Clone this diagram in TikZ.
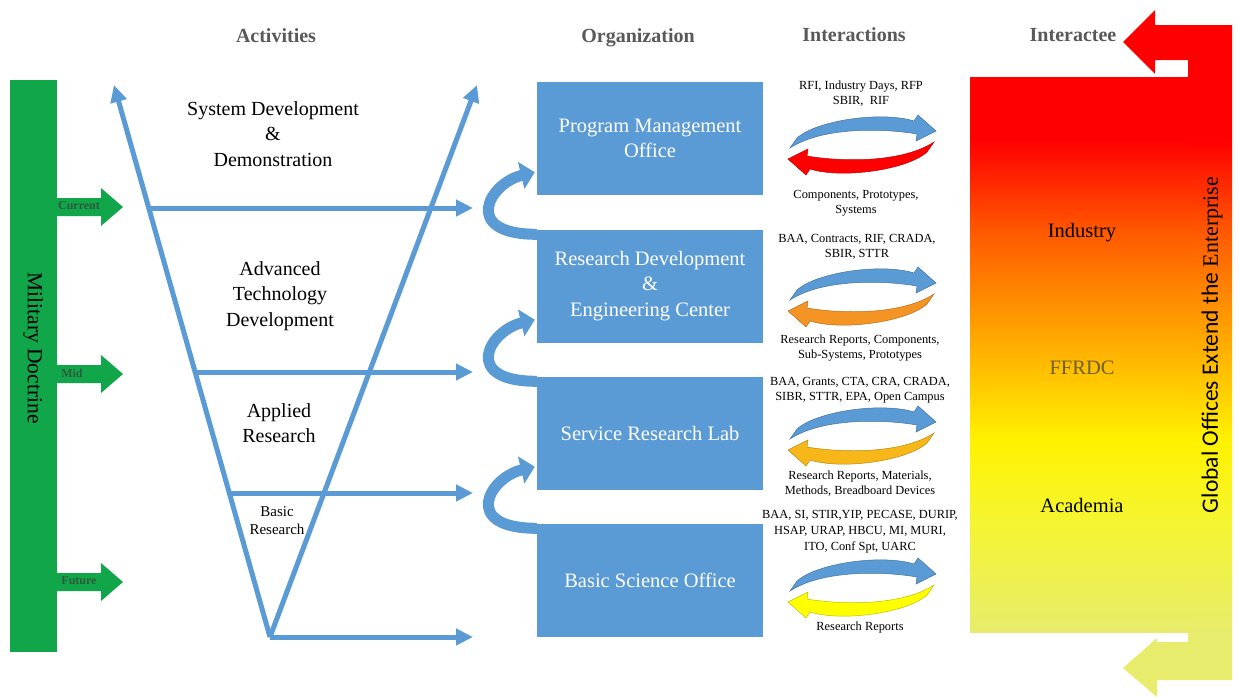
\documentclass[tikz,border=0pt]{standalone}
\usepackage{fontspec}
\setmainfont{Liberation Serif}
\newfontfamily\calibrifont{Carlito}
\newfontfamily\timesfont{Liberation Serif}
\usetikzlibrary{arrows.meta,calc}

\definecolor{boxblue}{HTML}{5B9BD5}
\definecolor{docgreen}{HTML}{12A64A}
\definecolor{headgray}{HTML}{595959}
\definecolor{lblgreen}{HTML}{2F5A3C}
\definecolor{ffrdccol}{HTML}{6E5E30}
\definecolor{retred}{HTML}{FF0000}
\definecolor{retorange}{HTML}{F39424}
\definecolor{retgold}{HTML}{F7B719}
\definecolor{retyellow}{HTML}{FFFF00}
% gradient stops, top (red) to bottom (pale yellow)
\definecolor{gA}{HTML}{FF0000}
\definecolor{gB}{HTML}{FF5A00}
\definecolor{gC}{HTML}{FF8C00}
\definecolor{gD}{HTML}{FFBE00}
\definecolor{gE}{HTML}{FFF200}
\definecolor{gF}{HTML}{F5F530}
\definecolor{gG}{HTML}{E8EC6C}

\pgfdeclareverticalshading{interacteeshade}{100bp}{color(0bp)=(gG); color(25bp)=(gG);
  color(35.1bp)=(gF); color(42.3bp)=(gE); color(48.8bp)=(gD); color(54.9bp)=(gC);
  color(60.9bp)=(gB); color(69.3bp)=(gA); color(100bp)=(gA)}
\pgfdeclareverticalshading{bracketshade}{100bp}{color(0bp)=(gG); color(29.7bp)=(gG);
  color(37.9bp)=(gF); color(43.7bp)=(gE); color(48.9bp)=(gD); color(53.9bp)=(gC);
  color(58.8bp)=(gB); color(65.5bp)=(gA); color(100bp)=(gA)}

\begin{document}
\begin{tikzpicture}[x=1pt,y=-1pt,
  hdr/.style={font=\fontsize{20}{24}\selectfont\bfseries, text=headgray, inner sep=0pt, anchor=base},
  actlbl/.style={align=center, inner sep=0pt, font=\fontsize{20}{25.5}\selectfont},
  orgbox/.style={rectangle, fill=boxblue, text=white, minimum width=226pt,
    minimum height=113pt, inner sep=0pt, align=center,
    font=\fontsize{20.5}{25.5}\selectfont},
  intxt/.style={align=center, inner sep=0pt, font=\fontsize{12.4}{15}\selectfont},
  harrow/.style={draw=boxblue, line width=5pt, -{Triangle[length=17pt,width=16pt]}},
  curlarrow/.style={draw=boxblue, line width=11pt, -{Triangle[length=14pt,width=27pt]}},
  docarrow/.style={fill=docgreen},
  doclbl/.style={font=\fontsize{12}{14}\selectfont\bfseries, text=lblgreen, inner sep=0pt},
  orglbl/.style={font=\fontsize{20.5}{24}\selectfont, inner sep=0pt},
  pics/swoosh/.style={code={
    \fill[#1, draw=#1!75!black, line width=0.5pt]
      (-72,3) -- (-65,-7) .. controls (-45,-25) and (20,-34) .. (52,-24)
      -- (56,-30) -- (74,-14) -- (54,-4) -- (55,-11)
      .. controls (20,-17) and (-40,-18) .. (-72,3) -- cycle;}}
]
\useasboundingbox (0,0) rectangle (1238,697);
\fill[white] (0,0) rectangle (1238,697);

% column headings
\node[hdr] (hAct) at (276,42) {Activities};
\node[hdr] (hOrg) at (638,42) {Organization};
\node[hdr] (hInt) at (854,41) {Interactions};

% military doctrine bar with its three horizon arrows
\fill[docgreen] (10,80) rectangle (57,652);
\node[rotate=-90, font=\fontsize{21.5}{24}\selectfont] (doctrine) at (33,348) {Military Doctrine};
\foreach \yy/\lab/\lx in {207/Current/79, 374/Mid/72, 582/Future/79}{
  \fill[docarrow] (57,\yy-9) -- (101,\yy-9) -- (101,\yy-19) -- (123,\yy)
    -- (101,\yy+19) -- (101,\yy+9) -- (57,\yy+9) -- cycle;
  \node[doclbl] at (\lx,\yy-1) {\lab};
}

% the V of activities
\coordinate (vbot) at (270,637);
\coordinate (vltip) at (114,85);
\coordinate (vrtip) at (477,85);
\draw[harrow] (vbot) -- (vltip);
\draw[harrow] (vbot) -- (vrtip);

\node[actlbl] (sdd) at (273,134) {System Development\\\&\\Demonstration};
\node[actlbl] (atd) at (280,296) {Advanced\\Technology\\Development};
\node[actlbl] (ar) at (279,423) {Applied\\Research};
\node[align=center, inner sep=0pt, font=\fontsize{15}{18}\selectfont] (br) at (277,521) {Basic\\Research};

% organizations
\node[orgbox] (pmo) at (650,138.5) {Program Management\\Office};
\node[orgbox] (rdec) at (650,286) {Research Development\\\&\\Engineering Center};
\node[orgbox] (srl) at (650,433) {Service Research Lab};
\node[orgbox] (bso) at (650,580) {Basic Science Office};

% activity arrows into the organizations
\coordinate (a1) at (149,208);  \coordinate (a1e) at (473,208);
\coordinate (a2) at (195,372);  \coordinate (a2e) at (473,372);
\coordinate (a3) at (229,493);  \coordinate (a3e) at (473,493);
\coordinate (a4e) at (473,637);
\draw[harrow] (a1) -- (a1e);
\draw[harrow] (a2) -- (a2e);
\draw[harrow] (a3) -- (a3e);
\draw[harrow] (vbot) -- (a4e);

% hand-offs between organizations
\draw[curlarrow] ($(rdec.north west)+(0,5)$) .. controls +(-76,0) and +(-46,11) .. ($(pmo.south west)+(-2,-23)$);
\draw[curlarrow] ($(srl.north west)+(0,5)$) .. controls +(-76,0) and +(-46,11) .. ($(rdec.south west)+(-2,-23)$);
\draw[curlarrow] ($(bso.north west)+(0,5)$) .. controls +(-76,0) and +(-46,11) .. ($(srl.south west)+(-2,-23)$);

% interactions
\node[intxt] (t1) at (861,94) {RFI, Industry Days, RFP\\SBIR,\ \ RIF};
\pic at (862,145) {swoosh=boxblue};
\pic[rotate=180] at (862,145) {swoosh=retred};
\node[intxt] (b1) at (856,203) {Components, Prototypes,\\Systems};

\node[intxt] (t2) at (857,247) {BAA, Contracts, RIF, CRADA,\\SBIR, STTR};
\pic at (862,297) {swoosh=boxblue};
\pic[rotate=180] at (862,297) {swoosh=retorange};
\node[intxt] (b2) at (860,348) {Research Reports, Components,\\Sub-Systems, Prototypes};

\node[intxt] (t3) at (860,390.5) {BAA, Grants, CTA, CRA, CRADA,\\SIBR, STTR, EPA, Open Campus};
\pic at (862,436) {swoosh=boxblue};
\pic[rotate=180] at (862,436) {swoosh=retgold};
\node[intxt] (b3) at (860,483.5) {Research Reports, Materials,\\Methods, Breadboard Devices};

\node[intxt, font=\fontsize{12.4}{16}\selectfont] (t4) at (860,532) {BAA, SI, STIR,YIP, PECASE, DURIP,\\HSAP, URAP, HBCU, MI, MURI,\\ITO, Conf Spt, UARC};
\pic at (862,588) {swoosh=boxblue};
\pic[rotate=180] at (862,588) {swoosh=retyellow};
\node[intxt] (b4) at (860,628) {Research Reports};

% global offices bracket arrow
\shade[shading=bracketshade] (1232,25) -- (1232,680) -- (1157,680) -- (1157,697)
  -- (1123,668) -- (1157,638) -- (1157,642) -- (1188,642) -- (1188,60)
  -- (1155,60) -- (1155,74) -- (1123,42) -- (1155,10) -- (1155,25) -- cycle;
\node[rotate=90, inner sep=0pt] (global) at (1212,345)
  {\fontsize{23.5}{26}\selectfont\calibrifont Global Offices Extend the \timesfont\fontsize{22}{26}\selectfont Enterprise};

% interactee column
\shade[shading=interacteeshade] (970,77) rectangle (1190,632);
\node[hdr] (hIee) at (1073,41) {Interactee};
\node[orglbl] (ind) at (1082,233) {Industry};
\node[orglbl, text=ffrdccol] (ffrdc) at (1082,368) {FFRDC};
\node[orglbl] (acad) at (1082,505) {Academia};
\end{tikzpicture}
\end{document}
